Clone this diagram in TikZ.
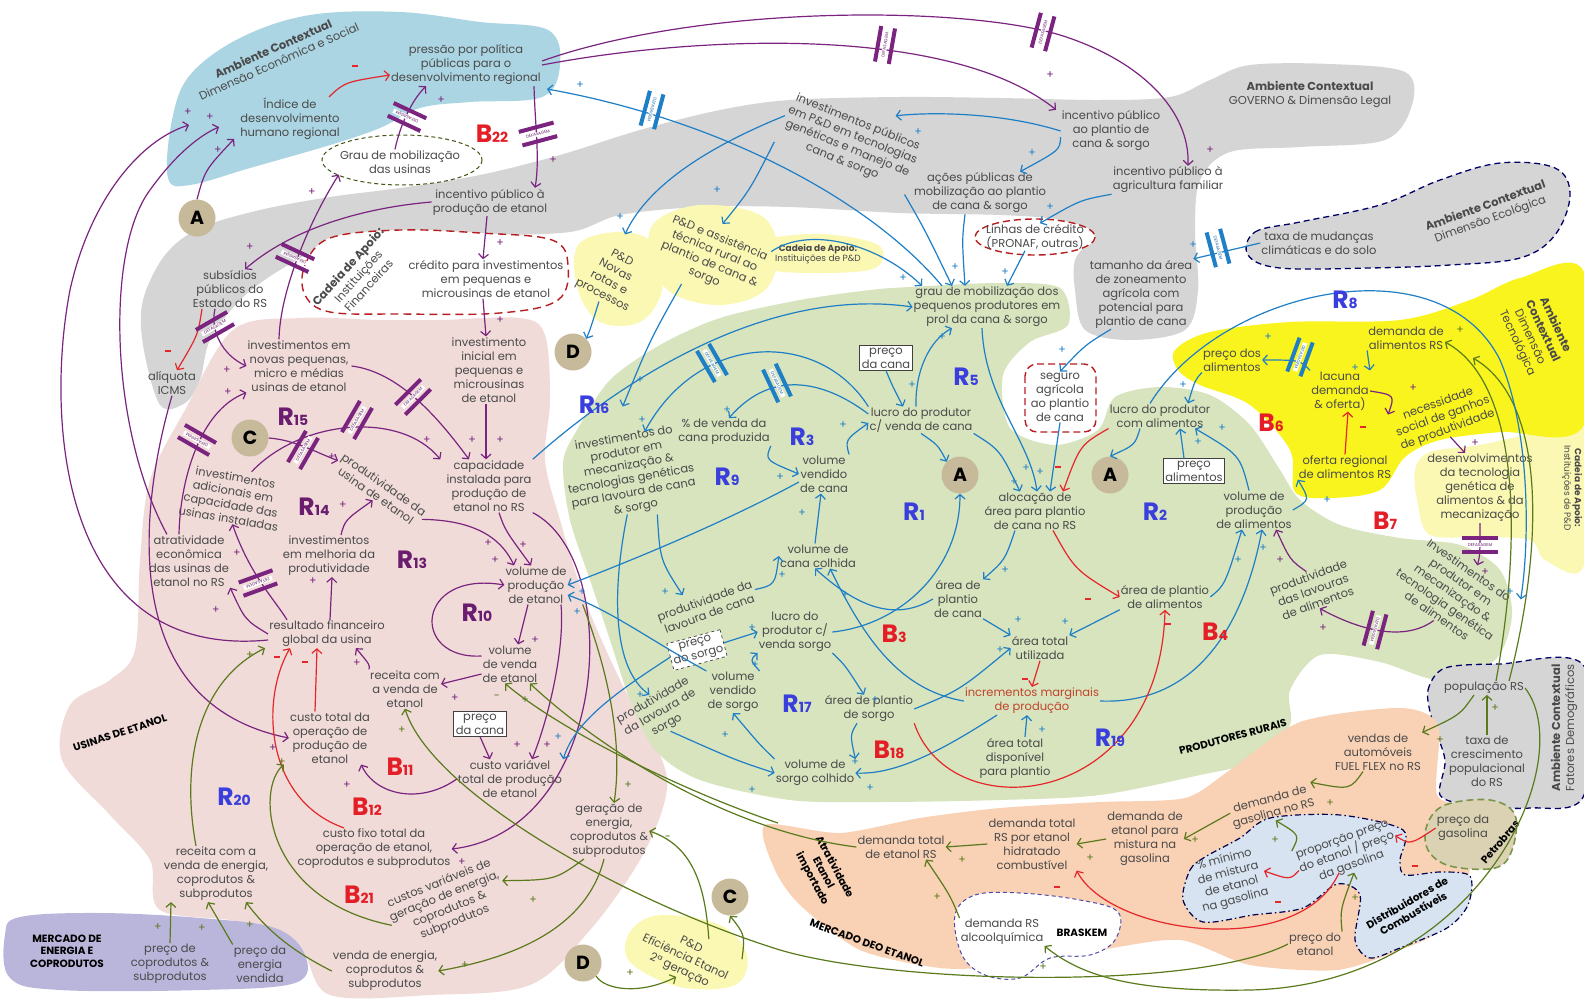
\documentclass[tikz,border=0pt]{standalone}
\usepackage{fontspec}
\setmainfont{Poppins}
\usetikzlibrary{arrows.meta}
\definecolor{txt}{HTML}{4A4A4A}
\definecolor{purp}{HTML}{7A2480}
\definecolor{blu}{HTML}{1E7EC6}
\definecolor{redc}{HTML}{E5262B}
\definecolor{oliv}{HTML}{5A7A1C}
\definecolor{rblue}{HTML}{3A3EDC}
\definecolor{rpurp}{HTML}{6A1D6E}
\definecolor{bred}{HTML}{E41E26}
\definecolor{bgblue}{HTML}{ABD5E3}
\definecolor{bggray}{HTML}{D5D5D5}
\definecolor{bgpink}{HTML}{F0DBD8}
\definecolor{bggreen}{HTML}{D7E4BE}
\definecolor{bgyel}{HTML}{FAF41E}
\definecolor{bgpale}{HTML}{FBF8B4}
\definecolor{bgorange}{HTML}{F9D1B4}
\definecolor{bgdist}{HTML}{D7E3F1}
\definecolor{bglav}{HTML}{BAB5DB}
\definecolor{tanc}{HTML}{C6BA9B}
\definecolor{bgpetro}{HTML}{DAD2B3}
\definecolor{incr}{HTML}{C0442C}
\newcommand\tfs{\fontsize{11.5}{14}\selectfont}
\newcommand\smfs{\fontsize{9}{10.5}\selectfont}
\newcommand\dffs{\fontsize{4.2}{4.5}\selectfont}
\newcommand\sgfs{\fontsize{11}{11}\selectfont}
\newcounter{dfc}
\newcounter{sgc}
\newcounter{lpc}
% lag marker: two bars across a connector with a small label between them
\newcommand\defas[4]{\stepcounter{dfc}%
  \begin{scope}[shift={(#1,#2)},rotate=#3]
    \draw[draw=#4,line width=4pt] (-7,-18)--(-7,18) (7,-18)--(7,18);
    \node[fill=white,inner sep=0.8pt,minimum width=30pt,rotate=90,transform shape,font=\dffs,text=#4!80!black] (df\arabic{dfc}) at (0,0) {DEFASAGEM};
  \end{scope}}
% polarity sign
\newcommand\sgn[4]{\stepcounter{sgc}\node[font=\sgfs,text=#3,inner sep=0pt] (sg\arabic{sgc}) at (#1,#2) {#4};}
\newcommand\mns{\rule[2.5pt]{6pt}{1.6pt}}
% loop label
\newcommand\Rl[2]{{\fontsize{25}{25}\selectfont #1}{\fontsize{14}{14}\selectfont #2}}
\newcommand\loopl[4]{\stepcounter{lpc}\node[font=\bfseries,text=#4,inner sep=0pt] (lp\arabic{lpc}) at (#1,#2) {#3};}
\begin{document}
\begin{tikzpicture}[x=1pt,y=-1pt,
  t/.style={align=center,text=txt,font=\tfs,inner sep=1pt},
  bt/.style={align=center,text=black,font=\fontsize{10.5}{12.5}\selectfont\bfseries,inner sep=1pt},
  box/.style={align=center,text=txt,font=\tfs,draw=black!75,fill=white,line width=0.7pt,inner sep=2pt},
  circ/.style={circle,fill=tanc,minimum size=37pt,inner sep=0pt,font=\fontsize{19}{19}\selectfont\bfseries,text=black},
  arr/.style={line width=1.2pt,-{Straight Barb[length=4.5pt,width=10pt,line width=1.2pt]}},
  pa/.style={arr,draw=purp},
  ba/.style={arr,draw=blu},
  ra/.style={arr,draw=redc},
  ga/.style={arr,draw=oliv}]
\fill[white] (0,0) rectangle (1584,1001);
\useasboundingbox (0,0) rectangle (1584,1001);

% ---------- background regions ----------
\fill[bggray] plot[smooth cycle,tension=0.55] coordinates {(143,345) (143,300) (165,255) (200,228) (260,210) (330,197) (400,188) (480,175) (560,155) (640,130) (720,110) (790,100) (900,97) (1000,98) (1100,100) (1170,97) (1210,80) (1250,65) (1330,64) (1405,72) (1412,105) (1385,140) (1300,147) (1230,152) (1200,180) (1195,230) (1198,290) (1185,330) (1130,340) (1085,330) (1075,290) (1075,260) (1090,235) (1060,220) (1000,215) (900,213) (790,207) (700,207) (620,215) (570,232) (480,235) (400,235) (330,245) (280,270) (240,300) (210,340) (200,380) (185,403) (160,405)};
\fill[bgblue] plot[smooth cycle,tension=0.6] coordinates {(168,178) (172,120) (190,75) (240,38) (310,15) (400,12) (480,22) (548,30) (560,65) (542,97) (470,102) (420,108) (380,128) (330,145) (250,168) (190,185)};
\fill[bgpink] plot[smooth cycle,tension=0.55] coordinates {(233,330) (300,318) (380,320) (440,320) (520,318) (545,335) (550,400) (545,460) (560,520) (585,600) (620,680) (662,760) (665,800) (640,860) (590,930) (530,985) (430,995) (330,995) (300,950) (240,922) (160,910) (150,860) (110,815) (62,760) (70,705) (110,680) (135,650) (140,560) (150,480) (185,410)};
\fill[bggreen] plot[smooth cycle,tension=0.5] coordinates {(563,463) (577,430) (610,380) (660,345) (720,318) (800,300) (870,290) (910,287) (1000,283) (1060,288) (1068,325) (1030,342) (1003,375) (1010,428) (1055,445) (1098,430) (1115,397) (1160,387) (1210,395) (1250,425) (1280,470) (1300,500) (1340,525) (1400,538) (1460,545) (1500,570) (1512,615) (1495,660) (1440,680) (1380,662) (1320,655) (1290,690) (1290,725) (1260,760) (1200,775) (1100,795) (1000,800) (880,802) (790,800) (700,780) (655,750) (630,700) (610,640) (590,580) (570,520)};
\fill[bgpale] plot[smooth cycle,tension=0.55] coordinates {(1415,470) (1430,452) (1480,445) (1540,432) (1584,428) (1584,565) (1545,560) (1530,540) (1480,537) (1430,535) (1418,505)};
\fill[bgyel] plot[smooth cycle,tension=0.55] coordinates {(1175,350) (1210,332) (1290,322) (1400,320) (1470,300) (1520,278) (1584,272) (1584,425) (1500,432) (1440,440) (1405,457) (1380,490) (1330,498) (1295,492) (1290,450) (1250,405) (1200,385) (1178,370)};
\filldraw[fill=bggray,draw=black!60!blue,line width=1.3pt,dash pattern=on 6pt off 4pt] plot[smooth cycle,tension=0.6] coordinates {(1248,255) (1255,232) (1300,222) (1380,205) (1440,180) (1500,163) (1555,168) (1570,195) (1555,235) (1520,258) (1450,265) (1370,268) (1280,268)};
\filldraw[fill=bggray,draw=black!60!blue,line width=1.3pt,dash pattern=on 6pt off 4pt] plot[smooth cycle,tension=0.5] coordinates {(1432,720) (1428,690) (1445,668) (1500,664) (1584,666) (1584,795) (1530,808) (1470,805) (1440,795) (1445,760)};
\fill[bgorange] plot[smooth cycle,tension=0.45] coordinates {(765,825) (840,833) (920,818) (1000,808) (1100,802) (1185,798) (1230,770) (1300,722) (1400,708) (1438,725) (1437,795) (1470,812) (1468,880) (1440,930) (1400,950) (1337,970) (1250,965) (1180,940) (1100,950) (1000,966) (940,968) (860,950) (800,905) (775,870)};
\filldraw[fill=bgdist,draw=black!70!blue,line width=1.2pt,dash pattern=on 6pt off 3pt on 1.5pt off 3pt] plot[smooth cycle,tension=0.5] coordinates {(1183,900) (1190,870) (1205,857) (1240,838) (1270,818) (1340,815) (1403,830) (1400,860) (1405,875) (1440,872) (1470,876) (1468,905) (1447,928) (1400,948) (1370,958) (1355,940) (1360,895) (1337,884) (1303,908) (1253,915) (1203,922)};
\filldraw[fill=bgpetro,draw=oliv!80,line width=1.6pt,dash pattern=on 7pt off 4pt] plot[smooth cycle,tension=0.6] coordinates {(1427,825) (1445,805) (1490,800) (1515,815) (1512,850) (1495,868) (1450,866) (1428,850)};
\filldraw[fill=white,draw=black!50!blue!70,line width=1pt,dash pattern=on 4pt off 3pt] plot[smooth cycle,tension=0.6] coordinates {(955,915) (975,895) (1020,893) (1080,900) (1118,912) (1115,940) (1090,955) (1050,958) (1020,978) (985,975) (962,955)};
\fill[bglav] plot[smooth cycle,tension=0.6] coordinates {(5,935) (20,917) (100,913) (200,918) (275,928) (305,955) (295,983) (200,990) (60,990) (10,978)};
\fill[bgpale] plot[smooth cycle,tension=0.6] coordinates {(578,245) (620,232) (655,245) (662,290) (640,322) (600,322) (578,290)};
\fill[bgpale] plot[smooth cycle,tension=0.6] coordinates {(655,222) (700,205) (760,215) (778,250) (765,290) (720,305) (670,292) (650,255)};
\fill[bgpale] plot[smooth cycle,tension=0.6] coordinates {(760,242) (820,234) (878,245) (875,268) (820,273) (765,268)};
\fill[bgpale] plot[smooth cycle,tension=0.6] coordinates {(630,932) (660,915) (720,925) (747,955) (735,985) (680,987) (630,962)};
\filldraw[fill=white,draw=redc!80!black,line width=1.4pt,dash pattern=on 8pt off 5pt] plot[smooth cycle,tension=0.6] coordinates {(305,265) (330,238) (400,230) (480,233) (552,240) (568,265) (558,300) (500,313) (400,314) (330,312) (305,295)};
\filldraw[fill=white,draw=redc!80!black,line width=1.4pt,dash pattern=on 7pt off 4pt] (1035,237) ellipse [x radius=60, y radius=18];
\filldraw[fill=white,draw=redc!80!black,line width=1.4pt,dash pattern=on 7pt off 4pt,rounded corners=12pt] (1025,364) rectangle (1096,432);
\filldraw[fill=white,draw=oliv!70!black,line width=1pt,dash pattern=on 4pt off 3pt] (402,160) ellipse [x radius=80, y radius=25];

% ---------- titles of regions ----------
\node[t,rotate=24] (ttlEco) at (276,55) {\textbf{Ambiente Contextual}\\Dimensão Econômica e Social};
\node[t] (ttlGov) at (1310,94) {\textbf{Ambiente Contextual}\\GOVERNO \& Dimensão Legal};
\node[t,rotate=20] (ttlEcol) at (1488,213) {\textbf{Ambiente Contextual}\\Dimensão Ecológica};
\node[t,rotate=-65] (ttlTec) at (1536,334) {\textbf{Ambiente}\\\textbf{Contextual}\\Dimensão\\Tecnológica};
\node[t,rotate=-90,font=\smfs] (ttlPeD2) at (1572,488) {\textbf{Cadeia de Apoio:}\\Instituições de P\&D};
\node[t,rotate=90] (ttlDemo) at (1564,728) {\textbf{Ambiente Contextual}\\Fatores Demográficos};
\node[t,rotate=48] (ttlFin) at (358,276) {\textbf{Cadeia de Apoio:}\\Instituições\\Financeiras};
\node[t,font=\smfs] (ttlPeD) at (818,254) {\textbf{Cadeia de Apoio:}\\Instituições de P\&D};
\node[bt,rotate=18] (ttlUsinas) at (120,733) {USINAS DE ETANOL};
\node[bt] (ttlMercEn) at (67,951) {MERCADO DE\\ENERGIA E\\COPRODUTOS};
\node[bt,rotate=15] (ttlProd) at (1233,737) {PRODUTORES RURAIS};
\node[bt,rotate=-20] (ttlMercEt) at (867,943) {MERCADO DEO ETANOL};
\node[bt,rotate=-62] (ttlImport) at (823,873) {Atratividade\\Etanol\\importado};
\node[bt] (ttlBrask) at (1082,933) {BRASKEM};
\node[bt,rotate=50] (ttlPetro) at (1500,842) {Petrobras};
\node[bt,rotate=30] (ttlDist) at (1410,908) {Distribuidores de\\Combustíveis};

% ---------- variables ----------
\node[t] (pressao) at (466,65) {pressão por política\\públicas para o\\desenvolvimento regional};
\node[t] (idh) at (290,119) {Índice de\\desenvolvimento\\humano regional};
\node[t] (grauUsinas) at (400,162) {Grau de mobilização\\das usinas};
\node[t] (incEtanol) at (490,202) {incentivo público à\\produção de etanol};
\node[t] (credito) at (486,279) {crédito para investimentos\\em pequenas e\\microusinas de etanol};
\node[t] (subsidios) at (230,289) {subsídios\\públicos do\\Estado do RS};
\node[t] (aliquota) at (172,383) {alíquota\\ICMS};
\node[t] (invNovas) at (299,366) {investimentos em\\novas pequenas,\\micro e médias\\usinas de etanol};
\node[t] (invInicial) at (489,370) {investimento\\inicial em\\pequenas e\\microusinas\\de etanol};
\node[t] (capacidade) at (489,486) {capacidade\\instalada para\\produção de\\etanol no RS};
\node[t,rotate=-35] (prodUsina) at (380,490) {produtividade da\\usina de etanol};
\node[t,rotate=-10] (invAdic) at (232,498) {investimentos\\adicionais em\\capacidade das\\usinas instaladas};
\node[t] (invMelh) at (329,556) {investimentos\\em melhoria da\\produtividade};
\node[t] (atrat) at (189,561) {atratividade\\econômica\\das usinas de\\etanol no RS};
\node[t] (resultado) at (327,634) {resultado financeiro\\global da usina};
\node[t] (volProdEt) at (536,585) {volume de\\produção\\de etanol};
\node[t] (volVendaEt) at (510,664) {volume\\de venda\\de etanol};
\node[t] (receitaEt) at (405,689) {receita com\\a venda de\\etanol};
\node[t] (custoTotal) at (330,738) {custo total da\\operação de\\produção de\\etanol};
\node[box] (precoCana2) at (480,724) {preço\\da cana};
\node[t] (custoVar) at (510,779) {custo variável\\total de produção\\de etanol};
\node[t] (custoFixo) at (374,849) {custo fixo total da\\operação de etanol,\\coprodutos e subprodutos};
\node[t] (geracao) at (609,831) {geração de\\energia,\\coprodutos \&\\subprodutos};
\node[t,rotate=22] (custosVarGer) at (447,903) {custos variáveis de\\geração de energia,\\coprodutos \&\\subprodutos};
\node[t] (vendaEnergia) at (385,971) {venda de energia,\\coprodutos \&\\subprodutos};
\node[t] (receitaEnergia) at (216,874) {receita com a\\venda de energia,\\coprodutos \&\\subprodutos};
\node[t] (precoCopro) at (170,964) {preço de\\coprodutos \&\\subprodutos};
\node[t] (precoEnergia) at (260,964) {preço da\\energia\\vendida};
\node[t,rotate=-25] (pdEfic) at (685,958) {P\&D\\Eficiência Etanol\\2ª geração};
\node[t,rotate=-22] (invPrD) at (850,142) {investimentos públicos\\em P\&D em tecnologias\\genéticas e manejo de\\cana \& sorgo};
\node[t] (incPlantio) at (1111,131) {incentivo público\\ao plantio de\\cana \& sorgo};
\node[t] (acoes) at (980,193) {ações públicas de\\mobilização ao plantio\\de cana \& sorgo};
\node[t] (incAgri) at (1168,180) {incentivo público à\\agricultura familiar};
\node[t] (linhas) at (1035,237) {Linhas de crédito\\(PRONAF, outras)};
\node[t] (tamanho) at (1141,294) {tamanho da área\\de zoneamento\\agrícola com\\potencial para\\plantio de cana};
\node[t] (taxaClima) at (1319,243) {taxa de mudanças\\climáticas e do solo};
\node[t] (grauMob) at (987,307) {grau de mobilização dos\\pequenos produtores em\\prol da cana \& sorgo};
\node[t,rotate=-22] (pdAssist) at (712,258) {P\&D e assistência\\técnica rural ao\\plantio de cana \&\\sorgo};
\node[t,rotate=-28] (pdNovas) at (612,277) {P\&D\\Novas\\rotas e\\processos};
\node[box] (precoCana) at (886,358) {preço\\da cana};
\node[t] (lucroCana) at (921,420) {lucro do produtor\\c/ venda de cana};
\node[t] (seguro) at (1060,397) {seguro\\agrícola\\ao plantio\\de cana};
\node[t] (alocacao) at (1035,511) {alocação de\\área para plantio\\de cana no RS};
\node[t] (lucroAlim) at (1160,416) {lucro do produtor\\com alimentos};
\node[box] (precoAlim) at (1194,471) {preço\\alimentos};
\node[t] (volCanaV) at (824,474) {volume\\vendido\\de cana};
\node[t] (pctVenda) at (724,432) {\% de venda da\\cana produzida};
\node[t,rotate=10] (invProd) at (630,473) {investimentos do\\produtor em\\mecanização \&\\tecnologias genéticas\\para lavoura de cana\\\& sorgo};
\node[t,rotate=20] (prodCana) at (707,607) {produtividade da\\lavoura de cana};
\node[t] (volCanaC) at (818,556) {volume de\\cana colhida};
\node[t] (areaCana) at (958,599) {área de\\plantio\\de cana};
\node[t] (areaAlim) at (1165,597) {área de plantio\\de alimentos};
\node[t] (areaTot) at (1040,648) {área total\\utilizada};
\node[t] (lucroSorgo) at (795,632) {lucro do\\produtor c/\\venda sorgo};
\node[box,dashed,rotate=15] (precoSorgo) at (697,650) {preço\\do sorgo};
\node[t,rotate=30] (prodSorgo) at (660,713) {produtividade\\da lavoura de\\sorgo};
\node[t] (volSorgoV) at (733,692) {volume\\vendido\\de sorgo};
\node[t] (areaSorgo) at (869,709) {área de plantio\\de sorgo};
\node[t] (volSorgoC) at (815,773) {volume de\\sorgo colhido};
\node[t,text=incr] (increm) at (1032,701) {incrementos marginais\\de produção};
\node[t] (areaDisp) at (1015,758) {área total\\disponível\\para plantio};
\node[t] (volProdAlim) at (1254,510) {volume de\\produção\\de alimentos};
\node[t,rotate=20] (prodLavAlim) at (1313,590) {produtividade\\das lavouras\\de alimentos};
\node[t,rotate=-35] (invProdAlim) at (1453,593) {Investimentos do\\produtor em\\mecanização \&\\tecnologia genética\\de alimentos};
\node[t] (precoDosAlim) at (1232,360) {preço dos\\alimentos};
\node[t] (lacuna) at (1340,391) {lacuna\\demanda\\\& oferta)};
\node[t] (demAlim) at (1406,338) {demanda de\\alimentos RS};
\node[t,rotate=20] (necess) at (1443,417) {necessidade\\social de ganhos\\de produtividade};
\node[t] (oferta) at (1345,467) {oferta regional\\de alimentos RS};
\node[t] (desenv) at (1480,488) {desenvolvimentos\\da tecnologia\\genética de\\alimentos \& da\\mecanização};
\node[t] (popul) at (1484,688) {população RS};
\node[t] (taxaCresc) at (1487,761) {taxa de\\crescimento\\populacional\\do RS};
\node[t] (vendasAuto) at (1378,752) {vendas de\\automóveis\\FUEL FLEX no RS};
\node[t,rotate=15] (demGas) at (1272,807) {demanda de\\gasolina no RS};
\node[t] (precoGas) at (1463,828) {preço da\\gasolina};
\node[t,rotate=20] (propor) at (1347,853) {proporção preço\\do etanol / preço\\da gasolina};
\node[t,rotate=15] (pctMin) at (1230,880) {\% mínimo\\de mistura\\de etanol\\na gasolina};
\node[t] (precoEt) at (1315,944) {preço do\\etanol};
\node[t] (demMist) at (1145,839) {demanda de\\etanol para\\mistura na\\gasolina};
\node[t] (demHid) at (1032,844) {demanda total\\RS por etanol\\hidratado\\combustível};
\node[t] (demTot) at (901,847) {demanda total\\de etanol RS};
\node[t] (demAlc) at (1002,932) {demanda RS\\alcoolquímica};

\node[circ] (cA1) at (197,218) {A};
\node[circ] (cA2) at (960,475) {A};
\node[circ] (cA3) at (1110,475) {A};
\node[circ] (cC1) at (250,438) {C};
\node[circ] (cC2) at (730,897) {C};
\node[circ] (cD1) at (573,352) {D};
\node[circ] (cD2) at (583,963) {D};

% ---------- connectors: ethanol plants and public policy ----------
\draw[pa] ([xshift=-5pt]grauUsinas.north) .. controls (400,125) and (412,100) .. ([xshift=-40pt]pressao.south);
\draw[pa] ([xshift=-8pt]pressao.south east) .. controls (535,125) and (540,160) .. ([xshift=45pt]incEtanol.north);
\draw[pa] (pressao.east) .. controls (700,35) and (950,25) .. ([xshift=-55pt]incPlantio.north);
\draw[pa] ([yshift=4pt]pressao.east) .. controls (700,5) and (960,5) .. (1060,35) .. controls (1140,60) and (1190,110) .. ([xshift=20pt]incAgri.north);
\draw[pa] (incEtanol.west) .. controls (360,208) and (290,230) .. ([xshift=15pt]subsidios.north);
\draw[pa] ([xshift=-3pt]incEtanol.south) -- ([xshift=-3pt]credito.north);
\draw[pa] ([xshift=-3pt]credito.south) -- ([xshift=-3pt]invInicial.north);
\draw[pa] ([xshift=-3pt]invInicial.south) -- ([xshift=-3pt]capacidade.north);
\draw[pa] (invNovas.east) .. controls (400,372) and (440,420) .. ([xshift=-20pt]capacidade.north);
\draw[pa] ([xshift=15pt]invAdic.north) .. controls (300,420) and (400,410) .. ([xshift=-5pt]capacidade.north west);
\draw[pa] (cC1.east) .. controls (295,440) and (315,452) .. (prodUsina.west);
\draw[pa] ([xshift=-20pt]invNovas.north) .. controls (280,290) and (310,220) .. (grauUsinas.south west);
\draw[pa] ([xshift=-10pt]atrat.north) .. controls (180,480) and (200,410) .. (invNovas.south west);
\draw[pa] ([xshift=-40pt]resultado.north) .. controls (275,600) and (250,575) .. ([xshift=5pt]invAdic.south);
\draw[pa] (resultado.west) .. controls (245,620) .. (atrat.south east);
\draw[pa] ([xshift=3pt]resultado.north) -- ([xshift=3pt]invMelh.south);
\draw[pa] ([xshift=12pt]invMelh.north) .. controls (345,520) .. (prodUsina.south);
\draw[pa] ([xshift=-15pt]subsidios.south) .. controls (210,330) and (222,355) .. (invNovas.west);
\draw[ra] ([xshift=-28pt]subsidios.south) .. controls (198,335) .. ([xshift=5pt]aliquota.north);
\draw[ra] ([xshift=-12pt]idh.north east) .. controls (345,82) .. ([yshift=-10pt]pressao.west);
\draw[pa] ([yshift=-6pt]resultado.west) .. controls (60,660) and (45,420) .. (70,290) .. controls (90,200) and (140,140) .. ([xshift=-50pt,yshift=-6pt]idh.west);
\draw[pa] ([xshift=-22pt]atrat.north) .. controls (110,430) and (105,250) .. (150,190) .. controls (175,155) and (200,135) .. ([xshift=-20pt,yshift=-8pt]idh.west);
\draw[pa] (cA1.north) .. controls (205,170) .. ([xshift=-5pt,yshift=-20pt]idh.west);
\draw[pa] (aliquota.south) .. controls (150,470) and (100,700) .. (custoTotal.west);
\draw[pa] ([xshift=10pt]capacidade.south) .. controls (505,530) .. ([xshift=-5pt]volProdEt.north);
\draw[pa] (prodUsina.east) .. controls (470,520) and (500,535) .. ([xshift=-22pt]volProdEt.north);
\draw[pa] ([yshift=8pt]volVendaEt.west) .. controls (410,660) and (415,570) .. (volProdEt.west);
\draw[pa] ([xshift=-8pt]volProdEt.south) -- ([xshift=8pt]volVendaEt.north);
\draw[pa] ([yshift=-10pt]volVendaEt.west) -- ([yshift=5pt]receitaEt.east);
\draw[pa] ([xshift=25pt]volProdEt.south) .. controls (565,650) and (548,720) .. ([xshift=22pt]custoVar.north);
\draw[pa] (capacidade.south east) .. controls (625,560) and (610,830) .. (custoFixo.east);
\draw[pa] (precoCana2.south) -- ([xshift=-20pt]custoVar.north);
\draw[pa] (custoVar.west) .. controls (420,805) and (375,795) .. ([xshift=-10pt]custoTotal.south east);
\draw[pa] (receitaEt.north west) .. controls (370,665) .. ([xshift=-30pt]resultado.south east);
\draw[ra] ([xshift=-15pt]custoTotal.north) -- ([xshift=-10pt]resultado.south);
\draw[ra] ([xshift=-30pt]custoFixo.north) .. controls (265,800) and (260,700) .. ([xshift=-37pt]resultado.south);
\draw[ga] ([xshift=-20pt]receitaEnergia.north) .. controls (180,760) and (200,680) .. ([xshift=-62pt]resultado.south);
\draw[ga] (custosVarGer.west) .. controls (265,900) and (255,790) .. ([xshift=-5pt]custoTotal.south west);
\draw[ga] (vendaEnergia.west) .. controls (300,955) and (270,935) .. ([xshift=30pt]receitaEnergia.south);
\draw[ga] (precoCopro.north) -- ([xshift=-45pt]receitaEnergia.south);
\draw[ga] (precoEnergia.north west) -- ([xshift=-8pt]receitaEnergia.south);
\draw[ga] ([xshift=-25pt]geracao.south) .. controls (555,880) .. (custosVarGer.east);
\draw[ga] ([xshift=-5pt]geracao.south) .. controls (585,935) and (500,960) .. (vendaEnergia.east);
\draw[ga] ([xshift=15pt]volProdEt.south east) .. controls (600,650) and (625,730) .. ([xshift=5pt]geracao.north);
\draw[ga] ([xshift=15pt]pdEfic.north) .. controls (705,880) and (690,845) .. (geracao.east);
\draw[ga] ([xshift=5pt]pdEfic.north east) .. controls (745,935) .. (cC2.south);
\draw[ga] (cD2.south east) .. controls (605,990) and (640,995) .. (pdEfic.south);

% ---------- connectors: ethanol market ----------
\draw[ga] (demTot.west) .. controls (720,830) and (590,740) .. ([xshift=20pt]volVendaEt.south);
\draw[ga] ([xshift=-45pt,yshift=50pt]ttlImport.center) .. controls (680,790) and (560,730) .. ([xshift=-5pt]volVendaEt.south);
\draw[ga] (precoEt.west) .. controls (1200,990) and (900,985) .. (780,950) .. controls (620,900) and (430,790) .. (receitaEt.south);
\draw[ga] (popul.east) .. controls (1580,760) and (1480,985) .. (1250,990) .. controls (1130,992) and (1080,975) .. (demAlc.south east);
\draw[ga] (demAlc.north west) .. controls (950,895) .. ([xshift=25pt]demTot.south);
\draw[ga] (demHid.west) -- (demTot.east);
\draw[ga] (demMist.west) -- (demHid.east);
\draw[ga] ([yshift=5pt]demGas.west) -- (demMist.east);
\draw[ga] ([xshift=-15pt]vendasAuto.south) .. controls (1350,790) .. (demGas.north east);
\draw[ga] ([xshift=-10pt]popul.south) .. controls (1460,715) .. (vendasAuto.north east);
\draw[ga] (taxaCresc.north) -- ([xshift=3pt]popul.south);
\draw[ga] (propor.north west) .. controls (1300,835) .. (demGas.south);
\draw[ra] (precoGas.west) .. controls (1410,845) .. (propor.east);
\draw[ga] (precoEt.north east) .. controls (1340,910) .. (propor.south);
\draw[ra] (propor.west) .. controls (1290,880) .. (pctMin.east);
\draw[ra] ([xshift=-15pt]propor.south) .. controls (1300,960) and (1110,935) .. (demHid.south east);
\draw[ga] ([xshift=12pt]popul.north) .. controls (1525,520) and (1515,380) .. ([yshift=-4pt]demAlim.east);
\draw[ga] ([xshift=25pt]popul.north) .. controls (1545,540) and (1545,400) .. ([xshift=28pt,yshift=-20pt]demAlim.east);

% ---------- connectors: rural producers ----------
\draw[ba] ([xshift=-45pt]grauMob.north) .. controls (870,200) and (720,120) .. ([xshift=5pt,yshift=-24pt]pressao.east);
\draw[ba] (invPrD.south east) .. controls (925,230) .. ([xshift=-35pt]grauMob.north);
\draw[ba] (capacidade.north east) .. controls (610,390) and (760,285) .. (grauMob.west);
\draw[ba] (pdAssist.north east) .. controls (810,225) and (880,245) .. ([xshift=-65pt]grauMob.north);
\draw[ba] (invPrD.west) .. controls (700,150) and (645,190) .. ([yshift=18pt]pdNovas.north);
\draw[ba] (invPrD.south west) .. controls (750,190) .. ([yshift=8pt]pdAssist.north);
\draw[ba] (incPlantio.west) .. controls (1000,112) and (930,112) .. ([xshift=35pt]invPrD.north);
\draw[ba] ([yshift=-6pt]incPlantio.west) .. controls (1060,150) .. ([xshift=40pt]acoes.north);
\draw[ba] (incAgri.south west) .. controls (1080,200) .. ([xshift=5pt]linhas.north);
\draw[ba] ([xshift=-15pt]acoes.south) .. controls (962,240) .. ([xshift=-22pt]grauMob.north);
\draw[ba] ([xshift=-10pt]linhas.south) -- ([xshift=20pt]grauMob.north);
\draw[ba] (taxaClima.west) -- (tamanho.north east);
\draw[ba] ([xshift=-30pt]tamanho.south) .. controls (1085,345) .. (seguro.north);
\draw[ba] (seguro.south) -- ([xshift=15pt]alocacao.north);
\draw[ba] ([xshift=-5pt]grauMob.south) .. controls (985,400) and (1030,440) .. ([xshift=2pt]alocacao.north);
\draw[ba] (lucroCana.south east) .. controls (1000,450) .. ([xshift=-15pt]alocacao.north);
\draw[ra] (lucroAlim.south west) .. controls (1080,445) .. ([xshift=28pt]alocacao.north);
\draw[ba] ([xshift=-5pt]lucroCana.north) .. controls (915,370) and (930,340) .. ([xshift=-35pt]grauMob.south);
\draw[ba] (precoCana.south) .. controls (892,385) .. ([xshift=-18pt]lucroCana.north);
\draw[ba] (lucroCana.south) .. controls (938,445) .. (cA2.north west);
\draw[ba] ([xshift=-20pt]lucroAlim.south) .. controls (1135,445) .. (cA3.north);
\draw[ba] (volCanaV.north east) .. controls (845,440) .. ([yshift=-3pt]lucroCana.west);
\draw[ba] ([yshift=6pt]lucroCana.west) .. controls (830,385) and (775,365) .. ([xshift=5pt]pctVenda.north);
\draw[ba] (lucroCana.north west) .. controls (820,330) and (700,330) .. ([xshift=22pt]invProd.north);
\draw[ba] (pctVenda.south east) .. controls (765,460) .. (volCanaV.west);
\draw[ba] ([xshift=-3pt]volCanaC.north) -- ([xshift=-3pt]volCanaV.south);
\draw[ba] (prodCana.east) .. controls (775,585) .. (volCanaC.west);
\draw[ba] ([xshift=20pt]invProd.south) .. controls (660,560) .. ([xshift=-20pt]prodCana.north);
\draw[ba] ([xshift=-10pt]invProd.south) .. controls (610,600) and (615,670) .. (prodSorgo.north);
\draw[ba] ([yshift=-8pt]volCanaV.west) .. controls (720,525) and (620,565) .. (volProdEt.east);
\draw[ba] (volSorgoV.north west) .. controls (650,640) and (610,610) .. ([yshift=-10pt]volProdEt.east);
\draw[ba] (precoSorgo.west) .. controls (620,690) and (575,720) .. (custoVar.north east);
\draw[ba] (precoSorgo.east) -- (lucroSorgo.west);
\draw[ba] (volSorgoV.north east) .. controls (750,660) .. (lucroSorgo.south west);
\draw[ba] (lucroSorgo.south east) .. controls (845,665) .. ([xshift=-5pt]areaSorgo.north);
\draw[ba] (lucroSorgo.east) .. controls (900,625) and (960,570) .. (cA2.south);
\draw[ba] ([xshift=-12pt]areaSorgo.south) .. controls (850,735) .. (volSorgoC.north east);
\draw[ba] (prodSorgo.south) .. controls (735,760) .. (volSorgoC.west);
\draw[ba] (volSorgoC.north west) .. controls (760,745) .. (volSorgoV.south);
\draw[ba] ([xshift=-35pt]increm.south) .. controls (950,745) and (900,775) .. (volSorgoC.east);
\draw[ba] (increm.west) .. controls (900,690) and (865,640) .. ([xshift=12pt]volCanaC.south);
\draw[ba] (areaCana.west) .. controls (890,625) and (850,600) .. ([xshift=-3pt]volCanaC.south);
\draw[ba] ([xshift=-20pt]alocacao.south) .. controls (1005,560) .. (areaCana.north east);
\draw[ra] ([xshift=18pt]alocacao.south) .. controls (1075,570) .. (areaAlim.west);
\draw[ba] (areaCana.south east) -- (areaTot.north west);
\draw[ba] (areaAlim.south west) -- (areaTot.north east);
\draw[ba] (areaSorgo.east) .. controls (960,690) .. (areaTot.west);
\draw[ra] (areaTot.south) -- (increm.north);
\draw[ba] ([xshift=10pt]areaDisp.north) -- ([xshift=-5pt]increm.south);
\draw[ba] (increm.east) .. controls (1200,705) and (1245,620) .. ([xshift=8pt]volProdAlim.south);
\draw[ba] (areaAlim.east) .. controls (1225,585) .. ([xshift=-12pt]volProdAlim.south);
\draw[pa] (prodLavAlim.north) .. controls (1290,560) .. ([xshift=22pt]volProdAlim.south);
\draw[ra] (areaSorgo.south east) .. controls (950,830) and (1160,810) .. (areaAlim.south);
\draw[ba] (volProdAlim.east) .. controls (1310,500) .. (oferta.south west);
\draw[ba] ([xshift=-5pt]volProdAlim.north) .. controls (1240,455) .. ([xshift=35pt]lucroAlim.south);
\draw[ba] ([xshift=-10pt]precoAlim.north) -- ([xshift=20pt]lucroAlim.south);
\draw[ba] (precoDosAlim.south west) .. controls (1195,380) .. ([xshift=28pt]lucroAlim.north);
\draw[ba] ([xshift=-10pt]lucroAlim.north) .. controls (1220,290) and (1440,240) .. (1500,360) .. controls (1530,430) and (1530,540) .. (invProdAlim.north east);
\draw[ra] (oferta.north) -- ([xshift=8pt]lacuna.south);
\draw[ba] (demAlim.south west) -- (lacuna.north east);
\draw[ba] (lacuna.north west) .. controls (1300,360) .. (precoDosAlim.east);
\draw[pa] (lacuna.east) .. controls (1395,395) .. (necess.north west);
\draw[pa] (necess.south) -- ([xshift=-15pt]desenv.north);
\draw[pa] (desenv.south) .. controls (1480,555) .. ([xshift=5pt]invProdAlim.north);
\draw[pa] (invProdAlim.south) .. controls (1400,645) and (1350,625) .. (prodLavAlim.south);
\draw[ba] (pdNovas.south) .. controls (590,330) .. (cD1.north east);
\draw[ba] ([xshift=-20pt]pdAssist.south) .. controls (650,340) .. ([yshift=25pt]invProd.north);

% ---------- lag markers ----------
\defas{407}{117}{65}{purp}
\defas{538}{134}{-75}{purp}
\defas{885}{45}{-10}{purp}
\defas{1043}{32}{-15}{purp}
\defas{652}{110}{165}{blu}
\defas{1218}{248}{195}{blu}
\defas{295}{258}{65}{purp}
\defas{215}{327}{-60}{purp}
\defas{197}{440}{60}{purp}
\defas{258}{583}{110}{purp}
\defas{303}{450}{-30}{purp}
\defas{357}{420}{-30}{purp}
\defas{413}{397}{-45}{purp}
\defas{712}{363}{210}{blu}
\defas{777}{383}{205}{blu}
\defas{1300}{357}{160}{blu}
\defas{1480}{545}{-90}{purp}
\defas{1375}{630}{165}{purp}

% ---------- polarity signs ----------
\sgn{441}{100}{purp}{+}\sgn{553}{160}{purp}{+}\sgn{1050}{75}{purp}{+}\sgn{1210}{150}{purp}{+}
\sgn{250}{247}{purp}{+}\sgn{500}{243}{purp}{+}\sgn{500}{320}{purp}{+}\sgn{500}{440}{purp}{+}
\sgn{472}{440}{purp}{+}\sgn{427}{440}{purp}{+}\sgn{332}{457}{purp}{+}\sgn{228}{392}{purp}{+}
\sgn{227}{370}{purp}{+}\sgn{237}{553}{purp}{+}\sgn{216}{610}{purp}{+}\sgn{313}{581}{purp}{+}
\sgn{343}{505}{purp}{+}\sgn{312}{192}{purp}{+}\sgn{188}{112}{purp}{+}\sgn{210}{117}{purp}{+}
\sgn{218}{150}{purp}{+}\sgn{273}{748}{purp}{+}\sgn{523}{545}{purp}{+}\sgn{488}{543}{purp}{+}
\sgn{495}{560}{purp}{+}\sgn{535}{640}{purp}{+}\sgn{455}{698}{purp}{+}\sgn{547}{745}{purp}{+}
\sgn{462}{862}{purp}{+}\sgn{517}{745}{purp}{+}\sgn{347}{785}{purp}{+}\sgn{357}{663}{purp}{+}
\sgn{1413}{388}{purp}{+}\sgn{1475}{443}{purp}{+}\sgn{1485}{572}{purp}{+}\sgn{1323}{628}{purp}{+}
\sgn{1280}{560}{purp}{+}
\sgn{355}{67}{redc}{\mns}\sgn{168}{352}{redc}{\mns}\sgn{277}{658}{redc}{\mns}\sgn{305}{663}{redc}{\mns}
\sgn{1058}{468}{redc}{\mns}\sgn{1088}{600}{redc}{\mns}\sgn{1025}{680}{redc}{\mns}\sgn{1168}{625}{redc}{\mns}
\sgn{1363}{428}{redc}{\mns}\sgn{1415}{867}{redc}{\mns}\sgn{1278}{903}{redc}{\mns}\sgn{1057}{888}{redc}{\mns}
\sgn{250}{655}{oliv}{+}\sgn{282}{762}{oliv}{+}\sgn{250}{925}{oliv}{+}\sgn{158}{927}{oliv}{+}
\sgn{202}{928}{oliv}{+}\sgn{533}{900}{oliv}{+}\sgn{465}{965}{oliv}{+}\sgn{628}{785}{oliv}{+}
\sgn{630}{973}{oliv}{+}\sgn{525}{700}{oliv}{+}\sgn{402}{730}{oliv}{+}\sgn{1043}{967}{oliv}{+}
\sgn{937}{897}{oliv}{+}\sgn{962}{860}{oliv}{+}\sgn{1090}{858}{oliv}{+}\sgn{1195}{840}{oliv}{+}
\sgn{1330}{803}{oliv}{+}\sgn{1440}{740}{oliv}{+}\sgn{1495}{708}{oliv}{+}\sgn{1275}{840}{oliv}{+}
\sgn{1355}{898}{oliv}{+}\sgn{1460}{330}{oliv}{+}
\sgn{497}{697}{oliv}{-}\sgn{668}{838}{oliv}{-}
\sgn{580}{85}{blu}{+}\sgn{903}{278}{blu}{+}\sgn{955}{267}{blu}{+}\sgn{1005}{272}{blu}{+}
\sgn{620}{217}{blu}{+}\sgn{717}{190}{blu}{+}\sgn{918}{132}{blu}{+}\sgn{1032}{153}{blu}{+}
\sgn{1050}{207}{blu}{+}\sgn{1193}{245}{blu}{+}\sgn{1062}{350}{blu}{+}\sgn{1040}{472}{blu}{+}
\sgn{1026}{468}{blu}{+}\sgn{1014}{482}{blu}{+}\sgn{942}{337}{blu}{+}\sgn{912}{385}{blu}{+}
\sgn{843}{425}{blu}{+}\sgn{727}{410}{blu}{+}\sgn{642}{420}{blu}{+}\sgn{640}{380}{blu}{+}
\sgn{780}{477}{blu}{+}\sgn{802}{513}{blu}{+}\sgn{782}{575}{blu}{+}\sgn{665}{592}{blu}{+}
\sgn{640}{695}{blu}{+}\sgn{582}{592}{blu}{+}\sgn{577}{612}{blu}{+}\sgn{558}{737}{blu}{+}
\sgn{752}{628}{blu}{+}\sgn{755}{665}{blu}{+}\sgn{875}{700}{blu}{+}\sgn{855}{762}{blu}{+}
\sgn{752}{790}{blu}{+}\sgn{725}{735}{blu}{+}\sgn{870}{788}{blu}{+}\sgn{845}{595}{blu}{+}
\sgn{1005}{570}{blu}{+}\sgn{1018}{620}{blu}{+}\sgn{1065}{622}{blu}{+}\sgn{1000}{650}{blu}{+}
\sgn{1042}{730}{blu}{+}\sgn{1263}{548}{blu}{+}\sgn{1238}{560}{blu}{+}\sgn{1327}{500}{blu}{+}
\sgn{1222}{428}{blu}{+}\sgn{1198}{442}{blu}{+}\sgn{1183}{385}{blu}{+}\sgn{1510}{592}{blu}{+}
\sgn{1355}{368}{blu}{+}\sgn{1268}{337}{blu}{+}

% ---------- loop labels ----------
\loopl{492}{134}{\Rl{B}{22}}{bred}
\loopl{293}{417}{\Rl{R}{15}}{rpurp}
\loopl{314}{507}{\Rl{R}{14}}{rpurp}
\loopl{412}{560}{\Rl{R}{13}}{rpurp}
\loopl{477}{613}{\Rl{R}{10}}{rpurp}
\loopl{594}{405}{\Rl{R}{16}}{rblue}
\loopl{727}{477}{\Rl{R}{9}}{rblue}
\loopl{802}{437}{\Rl{R}{3}}{rblue}
\loopl{914}{512}{\Rl{R}{1}}{rblue}
\loopl{966}{377}{\Rl{R}{5}}{rblue}
\loopl{1155}{512}{\Rl{R}{2}}{rblue}
\loopl{894}{634}{\Rl{B}{3}}{bred}
\loopl{1345}{300}{\Rl{R}{8}}{rblue}
\loopl{1271}{423}{\Rl{B}{6}}{bred}
\loopl{1385}{521}{\Rl{B}{7}}{bred}
\loopl{1215}{632}{\Rl{B}{4}}{bred}
\loopl{797}{704}{\Rl{R}{17}}{rblue}
\loopl{889}{750}{\Rl{B}{18}}{bred}
\loopl{1110}{738}{\Rl{R}{19}}{rblue}
\loopl{400}{767}{\Rl{B}{11}}{bred}
\loopl{367}{807}{\Rl{B}{12}}{bred}
\loopl{234}{797}{\Rl{R}{20}}{rblue}
\loopl{359}{895}{\Rl{B}{21}}{bred}
\end{tikzpicture}
\end{document}
